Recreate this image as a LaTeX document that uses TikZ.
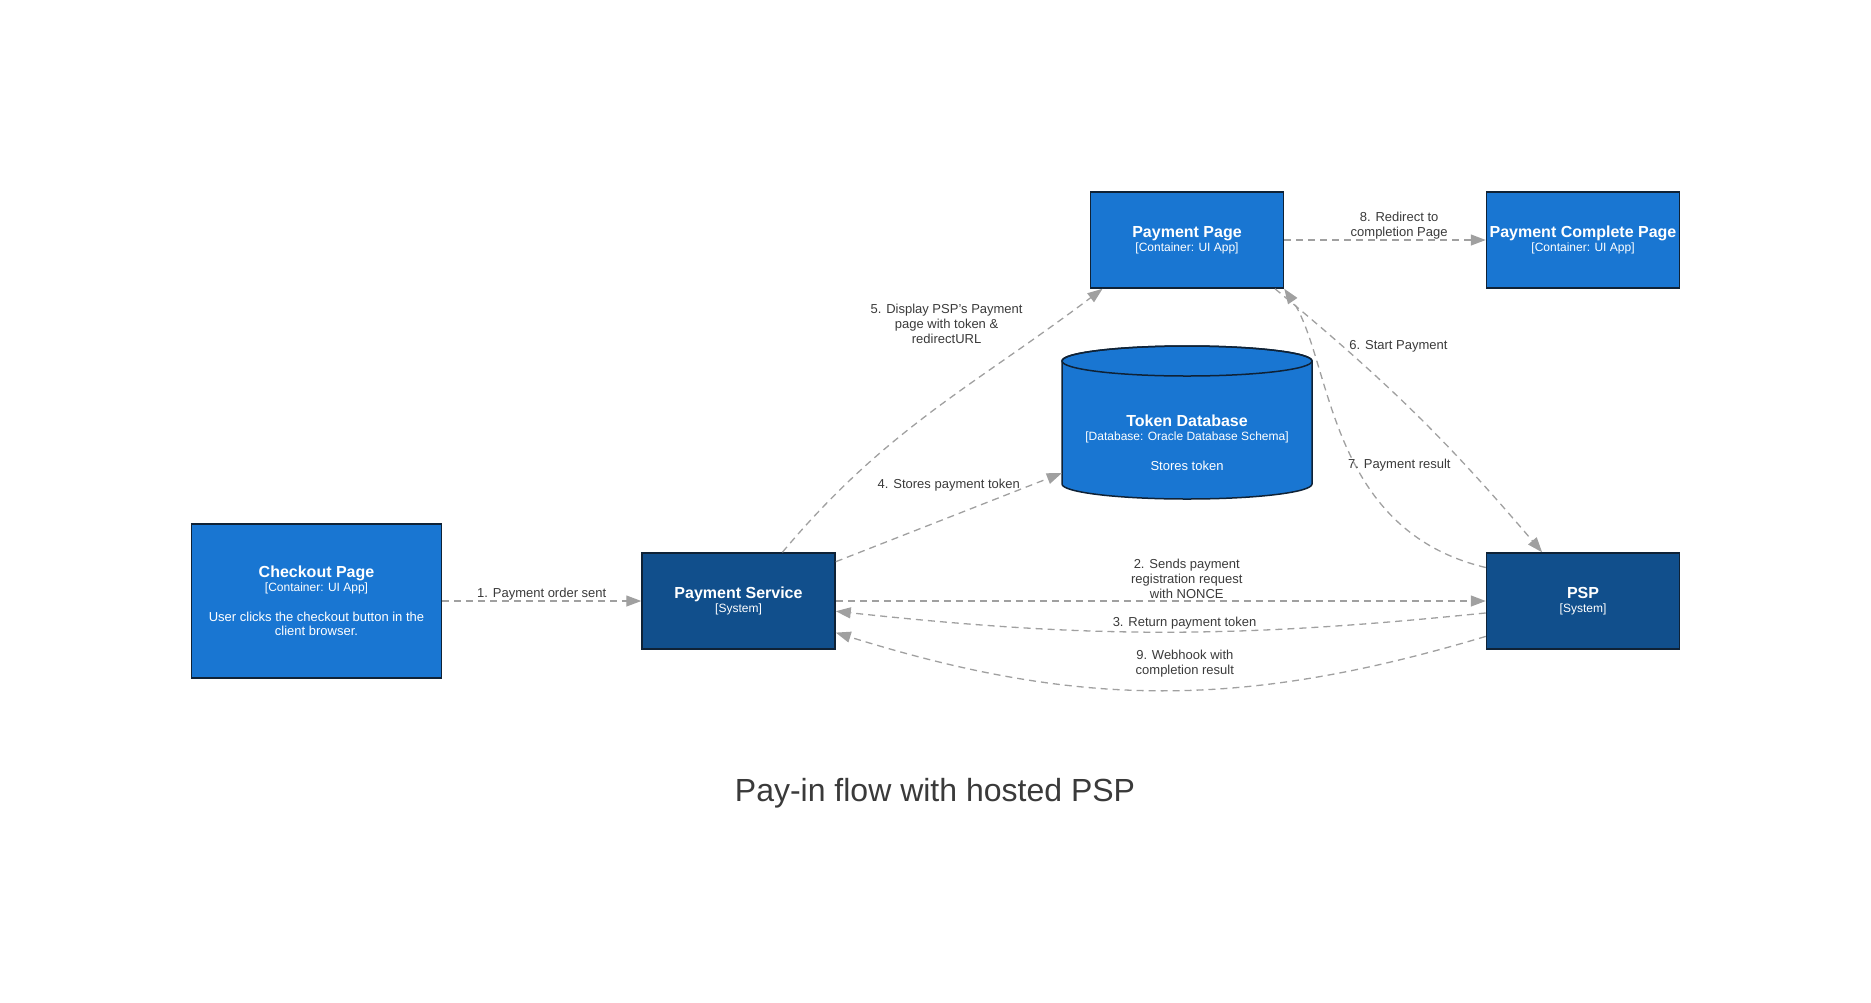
\documentclass[tikz,border=0pt]{standalone}
\usepackage{fontspec}
\setmainfont{Liberation Sans}
\usetikzlibrary{arrows.meta}
\definecolor{contblue}{HTML}{1976D2}
\definecolor{sysblue}{HTML}{114F8C}
\definecolor{boxedge}{HTML}{0F2236}
\definecolor{flowgray}{HTML}{A0A0A0}
\definecolor{lblgray}{HTML}{3A3A3A}
\newcommand\boxttl{\fontsize{16}{18}\selectfont\bfseries}
\newcommand\boxsub{\fontsize{12}{14}\selectfont}
\newcommand\boxdsc{\fontsize{13}{15}\selectfont}
\newcommand\lblfont{\fontsize{13}{15}\selectfont}
\begin{document}
\begin{tikzpicture}[x=1pt,y=-1pt,
box/.style={draw=boxedge,line width=1.5pt,text=white,align=center,minimum width=193pt,minimum height=96pt,inner sep=0pt,font=\fontsize{13}{13.5}\selectfont},
container/.style={box,fill=contblue},
system/.style={box,fill=sysblue},
flow/.style={draw=flowgray,line width=1.3pt,dash pattern=on 7pt off 5pt,-{Stealth[inset=0pt,length=15pt,width=11pt]}},
lbl/.style={text=lblgray,align=center,inner sep=0pt,font=\lblfont}]
\useasboundingbox (0,0) rectangle (1871,1002);
\node[container,minimum width=250pt,minimum height=154pt] (checkout) at (316.5,601) {\boxttl Checkout Page\\\boxsub [Container: UI App]\\[17pt]\boxdsc User clicks the checkout button in the\\\boxdsc client browser.};
\node[system] (paysvc) at (738.5,601) {\boxttl Payment Service\\\boxsub [System]};
\node[container] (paypage) at (1187,240) {\boxttl Payment Page\\\boxsub [Container: UI App]};
\node[container] (paydone) at (1583,240) {\boxttl Payment Complete Page\\\boxsub [Container: UI App]};
\node[system] (psp) at (1583,601) {\boxttl PSP\\\boxsub [System]};
\path[fill=contblue,draw=boxedge,line width=1.5pt] (1062,361) -- (1062,484) arc[start angle=180,end angle=360,x radius=125pt,y radius=15pt] -- (1312,361) arc[start angle=0,end angle=180,x radius=125pt,y radius=15pt] -- cycle;
\draw[boxedge,line width=1.5pt] (1187,361) ellipse[x radius=125pt,y radius=15pt];
\node[minimum width=250pt,minimum height=153pt,inner sep=0pt] (tokendb) at (1187,422.5) {};
\node[text=white,align=center,font=\fontsize{13}{13.5}\selectfont] (dbtext) at (1187,443) {\boxttl Token Database\\\boxsub [Database: Oracle Database Schema]\\[17pt]\boxdsc Stores token};
\node[text=lblgray,font=\fontsize{32}{38}\selectfont] (title) at (935,793) {Pay-in flow with hosted PSP};
\draw[flow] (checkout.east) -- (paysvc.west) node[lbl,midway,yshift=7pt]{1. Payment order sent};
\draw[flow] (paysvc.east) -- (psp.west) node[lbl,pos=0.54,yshift=22pt]{2. Sends payment\\registration request\\with NONCE};
\draw[flow] (psp.187) to[bend left=6] node[lbl,pos=0.46,yshift=9pt]{3. Return payment token} (paysvc.-6);
\draw[flow] (paysvc.22) -- (tokendb.202) node[lbl,midway,yshift=32pt]{4. Stores payment token};
\draw[flow] (paysvc.48) to[out=50,in=217] node[lbl,pos=0.75,xshift=-66pt,yshift=30pt]{5. Display PSP's Payment\\page with token \&\\redirectURL} (paypage.210);
\draw[flow] (paypage.-29) to[bend left=5] node[lbl,pos=0.22,anchor=west,xshift=6pt,yshift=0pt]{6. Start Payment} (psp.130);
\draw[flow] (psp.161) .. controls +(-160,-38) and +(48,70) .. (paypage.south east) node[lbl,pos=0.4,anchor=west,xshift=-12pt,yshift=8pt]{7. Payment result};
\draw[flow] (paypage.east) -- (paydone.west) node[lbl,pos=0.57,yshift=14pt]{8. Redirect to\\completion Page};
\draw[flow] (psp.200) to[bend left=17] node[lbl,pos=0.46,yshift=26pt]{9. Webhook with\\completion result} (paysvc.-18);
\end{tikzpicture}
\end{document}
